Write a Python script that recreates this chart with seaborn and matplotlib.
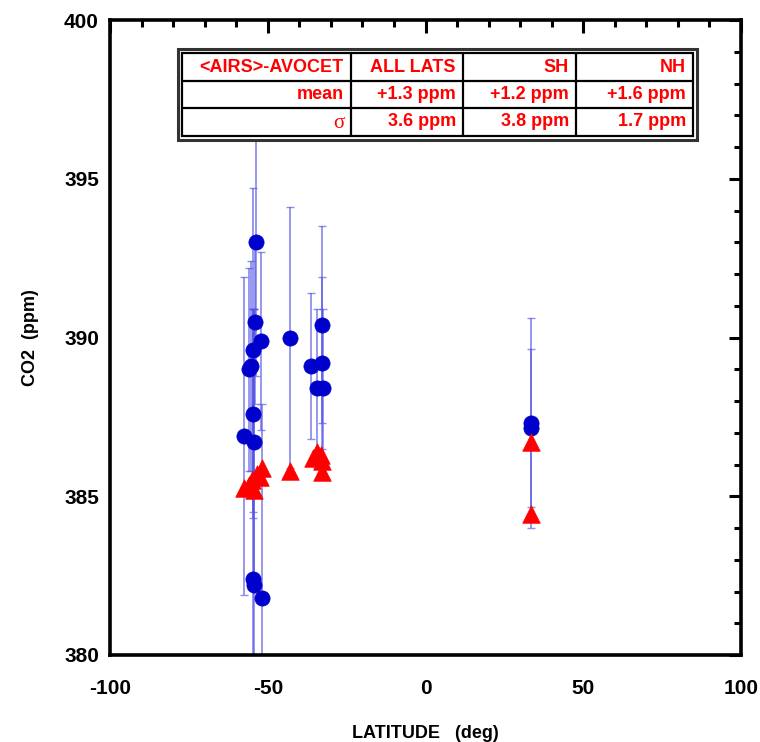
import matplotlib
matplotlib.use("Agg")
import matplotlib.pyplot as plt
from matplotlib.patches import Rectangle
from matplotlib.ticker import MultipleLocator
import numpy as np
import pandas as pd
import seaborn as sns

# AIRS retrievals: latitude, mean CO2 and its standard deviation
airs_lat = [-57.5, -56.0, -55.2, -54.7, -53.9, -53.8, -52.2, -54.6, -54.4, -54.6,
            -54.2, -51.7, -43.0, -36.2, -34.5, -32.9, -32.9, -32.6, 33.3, 33.3]
airs_co2 = [386.9, 389.0, 389.1, 389.6, 390.5, 393.0, 389.9, 387.6, 386.7, 382.4,
            382.2, 381.8, 390.0, 389.1, 388.4, 390.4, 389.2, 388.4, 387.3, 387.15]
airs_err = [5.0, 3.2, 3.3, 5.1, 2.6, 4.2, 2.8, 3.3, 4.2, 8.5,
            8.7, 6.1, 4.1, 2.3, 2.5, 3.1, 2.7, 2.5, 3.3, 2.5]

# AVOCET aircraft measurements
avocet_lat = [-57.6, -56.0, -55.1, -54.4, -53.5, -52.5, -51.9, -43.0,
              -34.5, -33.0, -35.5, -32.9, -32.9, 33.3, 33.3]
avocet_co2 = [385.25, 385.35, 385.5, 385.2, 385.7, 385.6, 385.9, 385.8,
              386.4, 386.3, 386.2, 386.1, 385.75, 386.7, 384.45]

# summary table of <AIRS>-AVOCET differences
table_cols = ["<AIRS>-AVOCET", "ALL LATS", "SH", "NH"]
table_mean = ["mean", "+1.3 ppm", "+1.2 ppm", "+1.6 ppm"]
table_sigma = ["\u03c3", "3.6 ppm", "3.8 ppm", "1.7 ppm"]

x_ticks = [-100, -50, 0, 50, 100]
y_ticks = [380, 385, 390, 395, 400]

sns.set_theme(style="white")
plt.rcParams["font.family"] = ["Liberation Sans", "DejaVu Sans"]
plt.rcParams["font.weight"] = "bold"
plt.rcParams["axes.unicode_minus"] = False
plt.rcParams["text.color"] = "black"
plt.rcParams["axes.labelcolor"] = "black"
plt.rcParams["xtick.color"] = "black"
plt.rcParams["ytick.color"] = "black"

airs = pd.DataFrame({"lat": airs_lat, "co2": airs_co2, "err": airs_err})
avocet = pd.DataFrame({"lat": avocet_lat, "co2": avocet_co2})

W, H = 760, 742
fig = plt.figure(figsize=(W / 100, H / 100), dpi=100)
ax = fig.add_axes([110 / W, 1 - 655 / H, 631 / W, 635 / H])

ax.errorbar(airs["lat"], airs["co2"], yerr=airs["err"], fmt="none",
            ecolor="#5454e4", elinewidth=1.3, capsize=3, capthick=1.0,
            alpha=0.65, zorder=2)
sns.scatterplot(data=airs, x="lat", y="co2", ax=ax, marker="o", s=120,
                color="#0000cc", edgecolor="#0000cc", linewidth=0.5, zorder=4)
sns.scatterplot(data=avocet, x="lat", y="co2", ax=ax, marker="^", s=160,
                color="#ff0000", edgecolor="#ff0000", linewidth=0.5, zorder=5)

ax.set_xlim(-100, 100)
ax.set_ylim(380, 400)
ax.set_xticks(x_ticks)
ax.set_yticks(y_ticks)
ax.xaxis.set_minor_locator(MultipleLocator(10))
ax.yaxis.set_minor_locator(MultipleLocator(1))
ax.tick_params(which="both", direction="in", top=True, right=True,
               width=2.2, colors="black", labelsize=15)
ax.tick_params(axis="x", which="both", pad=17)
ax.tick_params(axis="y", which="both", pad=8)
ax.tick_params(which="major", length=9)
ax.tick_params(which="minor", length=5)
for lab in ax.get_xticklabels() + ax.get_yticklabels():
    lab.set_fontweight("bold")
for sp in ax.spines.values():
    sp.set_linewidth(2.6)
    sp.set_color("black")
    sp.set_visible(True)

ax.set_xlabel("LATITUDE   (deg)", fontsize=13, fontweight="bold", labelpad=20,
              color="black")
ax.set_ylabel("CO2  (ppm)", fontsize=13, fontweight="bold", labelpad=18,
              color="black")


# table geometry in pixels, converted to axes fractions
def fx(px):
    return (px - 110) / 631


def fy(py):
    return 1 - (py - 20) / 635


tr = ax.transAxes
ax.add_patch(Rectangle((fx(178), fy(140)), fx(697) - fx(178), fy(49) - fy(140),
                       transform=tr, facecolor="white", edgecolor="#333333",
                       linewidth=2.2, zorder=8))
ax.add_patch(Rectangle((fx(182), fy(136)), fx(693) - fx(182), fy(53) - fy(136),
                       transform=tr, facecolor="white", edgecolor="black",
                       linewidth=1.6, zorder=9))
col_edges = [182, 351, 463, 576, 693]
row_edges = [53, 81, 108, 136]
for cx in col_edges[1:-1]:
    ax.plot([fx(cx), fx(cx)], [fy(53), fy(136)], transform=tr, color="black",
            lw=1.6, zorder=10, solid_capstyle="butt")
for ry in row_edges[1:-1]:
    ax.plot([fx(182), fx(693)], [fy(ry), fy(ry)], transform=tr, color="black",
            lw=1.6, zorder=10, solid_capstyle="butt")

for r, row in enumerate([table_cols, table_mean, table_sigma]):
    yc = (row_edges[r] + row_edges[r + 1]) / 2
    for c, txt in enumerate(row):
        xr = col_edges[c + 1] - 7
        if txt == "\u03c3":
            ax.text(fx(xr), fy(yc + 1), txt, transform=tr, ha="right", va="center",
                    color="#ff0000", fontsize=15, family="Liberation Serif",
                    fontweight="normal", zorder=11)
        else:
            ax.text(fx(xr), fy(yc), txt, transform=tr, ha="right", va="center",
                    color="#ff0000", fontsize=13, fontweight="bold", zorder=11)

fig.savefig("out.png", dpi=100)
